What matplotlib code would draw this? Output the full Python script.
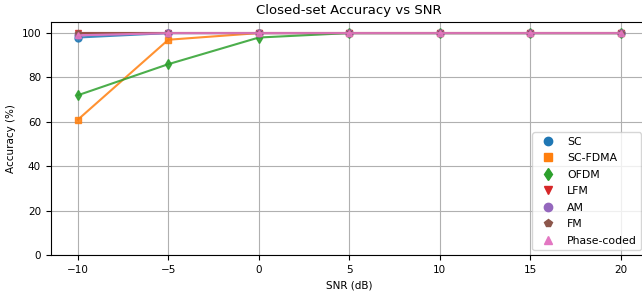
import matplotlib
matplotlib.use("Agg")
from matplotlib import pyplot as plt
from matplotlib.lines import Line2D

snr = [-10, -5, 0, 5, 10, 15, 20]

sc = [98, 100, 100, 100, 100, 100, 100]
sc_fdma = [61, 97, 100, 100, 100, 100, 100]
ofdm = [72, 86, 98, 100, 100, 100, 100]
lfm = [100, 100, 100, 100, 100, 100, 100]
am = [99, 100, 100, 100, 100, 100, 100]
fm = [100, 100, 100, 100, 100, 100, 100]
phase_coded = [99, 100, 100, 100, 100, 100, 100]

names = ['SC', 'SC-FDMA', 'OFDM', 'LFM', 'AM', 'FM', 'Phase-coded']
series = [sc, sc_fdma, ofdm, lfm, am, fm, phase_coded]
markers = ['o', 's', 'd', 'v', 'o', 'p', '^']
colors = ['C0', 'C1', 'C2', 'C3', 'C4', 'C5', 'C6']

matplotlib.rcParams.update({'font.size': 7.5})

fig, ax = plt.subplots(figsize=(6.42, 2.97), dpi=100)

handles = []
for name, y, m, c in zip(names, series, markers, colors):
    ax.plot(snr, y, marker=m, color=c, markersize=5, linewidth=1.5, alpha=0.85)
    handles.append(Line2D([], [], marker=m, color=c, linestyle='none',
                          markersize=6, label=name))

ax.set_title('Closed-set Accuracy vs SNR', fontsize=9.5)
ax.set_xlabel('SNR (dB)')
ax.set_ylabel('Accuracy (%)')
ax.set_xticks(snr)
ax.set_yticks([0, 20, 40, 60, 80, 100])
ax.set_ylim(0, 105)
ax.set_xlim(-11.5, 21.5)
ax.grid(True)
# legend sits against the right edge of the picture
ax.legend(handles=handles, loc='lower right', fontsize=7.8, labelspacing=0.6,
          bbox_to_anchor=(0.999, 0.158), bbox_transform=fig.transFigure,
          borderaxespad=0.0)

# the axes run a little past the right edge of the picture
plt.subplots_adjust(left=0.079, right=1.009, top=0.926, bottom=0.141)
plt.savefig('out.png')
